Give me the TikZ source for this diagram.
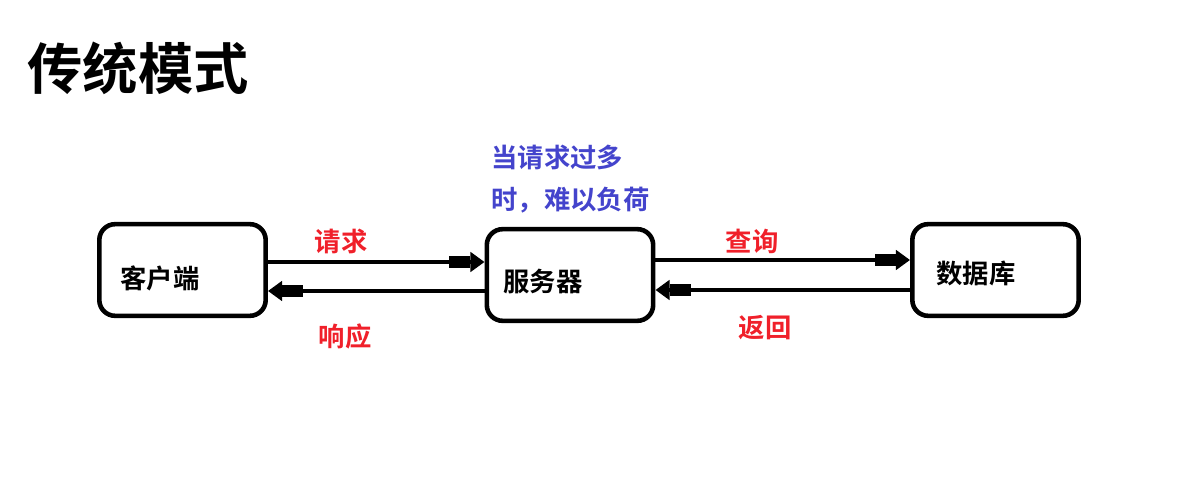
\documentclass[tikz,border=0pt]{standalone}
\usepackage{fontspec}
\setmainfont{Noto Sans CJK SC}[BoldFont={Noto Sans CJK SC Bold}]
\usetikzlibrary{arrows.meta}
\definecolor{lblred}{HTML}{F0202A}
\definecolor{lblblue}{HTML}{4444CC}
\tikzset{
  box/.style={draw=black, line width=4.6pt*0.567, rounded corners=9pt, minimum width=167*0.567pt, minimum height=92*0.567pt, inner sep=0pt},
  boxtext/.style={font=\fontsize{15pt}{18pt}\selectfont\bfseries, inner sep=0pt},
  redlbl/.style={font=\fontsize{15pt}{18pt}\selectfont\bfseries, text=lblred, inner sep=0pt},
  bluelbl/.style={font=\fontsize{15pt}{18pt}\selectfont\bfseries, text=lblblue, anchor=west, inner sep=0pt},
  conn/.style={line width=4pt*0.567, -{Rectangle[length=12pt,width=7pt]Triangle[length=8pt,width=11pt]}},
}
\begin{document}
\begin{tikzpicture}[x=0.02cm,y=-0.02cm]
\useasboundingbox (0,0) rectangle (1197,492);
\node[font=\fontsize{31.5pt}{36pt}\selectfont\bfseries, anchor=west, inner sep=0pt] (title) at (27,68) {传统模式};
\node[box] (client) at (182.5,270) {};
\node[box] (server) at (570,275) {};
\node[box] (db) at (995.5,270) {};
\node[boxtext] (clientt) at (160,278) {客户端};
\node[boxtext] (servert) at (543,281) {服务器};
\node[boxtext] (dbt) at (976,273) {数据库};
\draw[conn] (client.east |- 0,262) -- (server.west |- 0,262);
\draw[conn] (server.west |- 0,291) -- (client.east |- 0,291);
\draw[conn] (server.east |- 0,260) -- (db.west |- 0,260);
\draw[conn] (db.west |- 0,290) -- (server.east |- 0,290);
\node[redlbl] (req) at (341,241) {请求};
\node[redlbl] (resp) at (345,336) {响应};
\node[redlbl] (query) at (752,241) {查询};
\node[redlbl] (ret) at (765,328) {返回};
\node[bluelbl] (note1) at (491,157) {当请求过多};
\node[bluelbl] (note2) at (491,200) {时，难以负荷};
\end{tikzpicture}
\end{document}
